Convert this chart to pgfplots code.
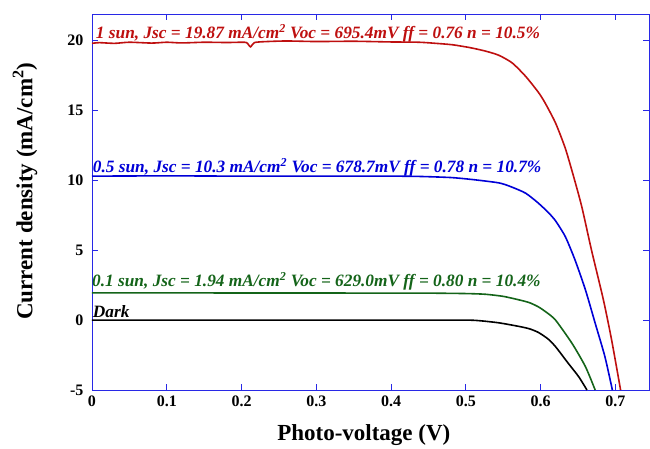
\documentclass[border=0pt]{standalone}
\usepackage{pgfplots}
\pgfplotsset{compat=1.18}
\usepackage{fontspec}
\setmainfont{Liberation Serif}
\definecolor{cred}{RGB}{190,15,15}
\definecolor{cblue}{RGB}{0,0,215}
\definecolor{cgreen}{RGB}{20,100,25}
\definecolor{axblue}{RGB}{40,40,230}
\begin{document}
\begin{tikzpicture}
\begin{axis}[
  scale only axis,
  width=557pt, height=376pt,
  xmin=0, xmax=0.745, ymin=-5, ymax=21.9,
  xtick={0,0.1,0.2,0.3,0.4,0.5,0.6,0.7},
  ytick={-5,0,5,10,15,20},
  xticklabels={0,0.1,0.2,0.3,0.4,0.5,0.6,0.7},
  tick align=inside,
  major tick length=6pt,
  axis line style={axblue, line width=0.8pt},
  every tick/.style={axblue, line width=0.8pt},
  /pgf/number format/assume math mode=true,
  tick label style={font=\fontsize{16}{16}\selectfont\bfseries, black},
  yticklabel style={xshift=-5pt},
  xticklabel style={yshift=-2pt},
  xlabel={Photo-voltage (V)},
  ylabel={Current density (mA/cm\textsuperscript{2})},
  label style={font=\fontsize{23}{23}\selectfont\bfseries},
  xlabel style={at={(axis description cs:0.488,0)}, anchor=north, inner sep=0pt, yshift=-34pt},
  ylabel style={at={(axis description cs:-0.1203,0.529)}, anchor=center, inner sep=0pt},
  clip=true,
]
\addplot[cred, line width=1.6pt, smooth, tension=0.4] coordinates {
(0,19.8) (0.01,19.85) (0.03,19.8) (0.05,19.88) (0.08,19.82) (0.1,19.88) (0.12,19.83) (0.15,19.88) (0.18,19.86) (0.2,19.88) (0.207,19.85) (0.212,19.55) (0.217,19.85) (0.23,19.92) (0.26,19.97) (0.3,19.93) (0.35,19.95) (0.4,19.9) (0.437,19.88) (0.46,19.8) (0.482,19.7) (0.505,19.5) (0.526,19.25) (0.544,18.95) (0.562,18.4) (0.58,17.44) (0.597,16.3) (0.606,15.54) (0.62,14.1) (0.633,12.3) (0.644,10.3) (0.655,8.13) (0.668,5.03) (0.684,1.45) (0.695,-1.42) (0.707,-5)
};
\addplot[cblue, line width=1.6pt, smooth, tension=0.4] coordinates {
(0,10.3) (0.1,10.32) (0.2,10.3) (0.3,10.3) (0.4,10.3) (0.437,10.28) (0.48,10.2) (0.51,10.05) (0.544,9.82) (0.56,9.55) (0.58,9.08) (0.597,8.37) (0.611,7.66) (0.62,7.1) (0.633,5.98) (0.646,4.31) (0.66,2.16) (0.673,-0.22) (0.686,-2.61) (0.696,-5)
};
\addplot[cgreen, line width=1.6pt, smooth, tension=0.4] coordinates {
(0,1.95) (0.1,1.95) (0.2,1.94) (0.3,1.94) (0.4,1.93) (0.45,1.93) (0.5,1.9) (0.526,1.85) (0.55,1.7) (0.571,1.45) (0.585,1.25) (0.597,0.95) (0.608,0.55) (0.62,0.0) (0.642,-1.66) (0.66,-3.33) (0.673,-5)
};
\addplot[black, line width=1.6pt, smooth, tension=0.4] coordinates {
(0,0) (0.1,0) (0.2,0) (0.3,0) (0.4,0) (0.5,0) (0.52,-0.05) (0.545,-0.2) (0.571,-0.45) (0.585,-0.62) (0.597,-0.88) (0.61,-1.35) (0.62,-1.9) (0.637,-3.09) (0.651,-4.05) (0.662,-5)
};
\node[anchor=base west, inner sep=0pt, cred, font=\fontsize{17.3}{17.3}\selectfont\bfseries\itshape] at (axis cs:0.005,20.14) {1 sun, Jsc = 19.87 mA/cm\textsuperscript{2} Voc = 695.4mV ff = 0.76 n = 10.5\%};
\node[anchor=base west, inner sep=0pt, cblue, font=\fontsize{17.3}{17.3}\selectfont\bfseries\itshape] at (axis cs:0.001,10.54) {0.5 sun, Jsc = 10.3 mA/cm\textsuperscript{2} Voc = 678.7mV ff = 0.78 n = 10.7\%};
\node[anchor=base west, inner sep=0pt, cgreen, font=\fontsize{17.3}{17.3}\selectfont\bfseries\itshape] at (axis cs:0.0,2.38) {0.1 sun, Jsc = 1.94 mA/cm\textsuperscript{2} Voc = 629.0mV ff = 0.80 n = 10.4\%};
\node[anchor=base west, inner sep=0pt, black, font=\fontsize{17.3}{17.3}\selectfont\bfseries\itshape] at (axis cs:0.001,0.16) {Dark};
\end{axis}
\path (current axis.south west) ++(-92pt,-58pt) rectangle ++(650pt,448pt);
\end{tikzpicture}
\end{document}
